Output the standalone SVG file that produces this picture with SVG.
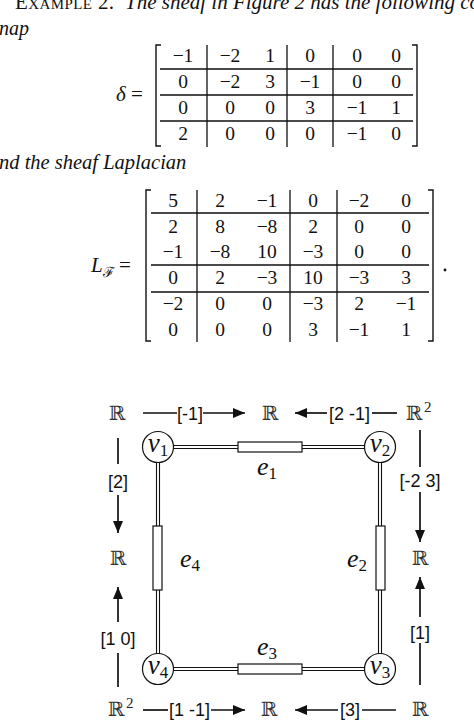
<svg xmlns="http://www.w3.org/2000/svg" width="474" height="721" viewBox="0 0 474 721">
<style>
.t{font-family:"Liberation Serif","DejaVu Serif",serif;fill:#111}
.it{font-style:italic}
.m{font-family:"Liberation Serif","DejaVu Serif",serif;font-size:19.5px;text-anchor:middle;fill:#111}
.ln{stroke:#111;stroke-width:1.3;fill:none}
.br{stroke:#111;stroke-width:1.4;fill:none}
.R{font-family:"DejaVu Serif",serif;font-size:20px;text-anchor:middle;fill:#333}
.sup{font-family:"Liberation Serif",serif;font-size:15px;fill:#222}
.lab{font-family:"Liberation Sans",Arial,sans-serif;font-size:18px;text-anchor:middle;fill:#111}
.ar{stroke:#111;stroke-width:1.7;fill:none}
.dl{stroke:#111;stroke-width:1.1;fill:none}
.box{stroke:#111;stroke-width:1.2;fill:#fff}
.node{stroke:#111;stroke-width:1.2;fill:#fff}
.math{font-family:"Liberation Serif","DejaVu Serif",serif;font-style:italic;font-size:26px;text-anchor:middle;fill:#111}
.vv{font-size:27px}
.sub{font-style:normal;font-size:17px}
</style>
<defs>
<marker id="ah" viewBox="0 0 12 10" refX="12" refY="5" markerWidth="12" markerHeight="10" markerUnits="userSpaceOnUse" orient="auto">
<path d="M0,0 L12,5 L0,10 Z" fill="#111"/>
</marker>
</defs>

<!-- paragraph text -->
<text class="t" x="15" y="9" font-size="21" font-variant="small-caps" letter-spacing="0.4">Example 2.</text>
<text class="t it" x="125" y="9" font-size="21">The sheaf in Figure 2 has the following co</text>
<text class="t it" x="-1" y="35" font-size="20">nap</text>
<text class="t it" x="-1" y="169" font-size="20.5">nd the sheaf Laplacian</text>

<!-- delta matrix -->
<g id="delta">
<text class="t it" x="116" y="101" font-size="21">δ</text>
<text class="t" x="131" y="101" font-size="21">=</text>
<path class="br" d="M161,45 H156 V146 H161 M412,45 H417 V146 H412"/>
<path class="ln" d="M207,45 V147 M287,45 V147 M333,45 V147 M160,69 H413 M160,95 H413 M160,121 H413"/>
<g class="m">
<text x="183" y="62">−1</text><text x="230" y="62">−2</text><text x="270" y="62">1</text><text x="310" y="62">0</text><text x="357" y="62">0</text><text x="396" y="62">0</text>
<text x="183" y="88">0</text><text x="230" y="88">−2</text><text x="270" y="88">3</text><text x="310" y="88">−1</text><text x="357" y="88">0</text><text x="396" y="88">0</text>
<text x="183" y="114">0</text><text x="230" y="114">0</text><text x="270" y="114">0</text><text x="310" y="114">3</text><text x="357" y="114">−1</text><text x="396" y="114">1</text>
<text x="183" y="140">2</text><text x="230" y="140">0</text><text x="270" y="140">0</text><text x="310" y="140">0</text><text x="357" y="140">−1</text><text x="396" y="140">0</text>
</g>
</g>

<!-- Laplacian -->
<g id="laplacian">
<text class="t it" x="91" y="272" font-size="21">L</text>
<text x="103" y="277" font-family="DejaVu Serif,serif" font-size="14" fill="#111">ℱ</text>
<text class="t" x="119" y="272" font-size="21">=</text>
<path class="br" d="M151,190 H146 V341 H151 M428,190 H433 V341 H428"/>
<path class="ln" d="M197,190 V342 M290,190 V342 M337,190 V342 M151,213 H429 M151,265 H429 M151,292 H429"/>
<circle cx="445" cy="270" r="1.4" fill="#111"/>
<g class="m">
<text x="173" y="207">5</text><text x="220" y="207">2</text><text x="267" y="207">−1</text><text x="313" y="207">0</text><text x="359" y="207">−2</text><text x="406" y="207">0</text>
<text x="173" y="233">2</text><text x="220" y="233">8</text><text x="267" y="233">−8</text><text x="313" y="233">2</text><text x="359" y="233">0</text><text x="406" y="233">0</text>
<text x="173" y="258">−1</text><text x="220" y="258">−8</text><text x="267" y="258">10</text><text x="313" y="258">−3</text><text x="359" y="258">0</text><text x="406" y="258">0</text>
<text x="173" y="284">0</text><text x="220" y="284">2</text><text x="267" y="284">−3</text><text x="313" y="284">10</text><text x="359" y="284">−3</text><text x="406" y="284">3</text>
<text x="173" y="310">−2</text><text x="220" y="310">0</text><text x="267" y="310">0</text><text x="313" y="310">−3</text><text x="359" y="310">2</text><text x="406" y="310">−1</text>
<text x="173" y="336">0</text><text x="220" y="336">0</text><text x="267" y="336">0</text><text x="313" y="336">3</text><text x="359" y="336">−1</text><text x="406" y="336">1</text>
</g>
</g>

<!-- graph edges -->
<g id="edges">
<path class="dl" d="M173,445.5 H365 M173,448.5 H365"/>
<path class="dl" d="M173,667.5 H365 M173,670.5 H365"/>
<path class="dl" d="M156.5,462 V654 M159.5,462 V654"/>
<path class="dl" d="M378.5,462 V654 M381.5,462 V654"/>
</g>
<g id="e1"><rect class="box" x="238" y="442" width="64" height="10"/><text class="math" x="267" y="475">e<tspan class="sub" dy="4">1</tspan></text></g>
<g id="e3"><rect class="box" x="238" y="664" width="64" height="10"/><text class="math" x="267" y="655">e<tspan class="sub" dy="4">3</tspan></text></g>
<g id="e4"><rect class="box" x="153" y="526" width="9" height="64"/><text class="math" x="190" y="567">e<tspan class="sub" dy="4">4</tspan></text></g>
<g id="e2"><rect class="box" x="376" y="526" width="9" height="64"/><text class="math" x="357" y="567">e<tspan class="sub" dy="4">2</tspan></text></g>

<g id="v1"><circle class="node" cx="158" cy="447" r="15.5"/><text class="math vv" x="158" y="452">v<tspan class="sub" dy="4">1</tspan></text></g>
<g id="v2"><circle class="node" cx="380" cy="447" r="15.5"/><text class="math vv" x="380" y="452">v<tspan class="sub" dy="4">2</tspan></text></g>
<g id="v3"><circle class="node" cx="380" cy="669" r="15.5"/><text class="math vv" x="380" y="674">v<tspan class="sub" dy="4">3</tspan></text></g>
<g id="v4"><circle class="node" cx="158" cy="669" r="15.5"/><text class="math vv" x="158" y="674">v<tspan class="sub" dy="4">4</tspan></text></g>

<!-- vector spaces -->
<g id="R-v1"><text class="R" x="117" y="420">ℝ</text></g>
<g id="R-e1"><text class="R" x="270" y="420">ℝ</text></g>
<g id="R-v2"><text class="R" x="414" y="420">ℝ</text><text class="sup" x="424" y="412">2</text></g>
<g id="R-e4"><text class="R" x="118" y="565">ℝ</text></g>
<g id="R-e2"><text class="R" x="420" y="565">ℝ</text></g>
<g id="R-v4"><text class="R" x="116" y="716">ℝ</text><text class="sup" x="126" y="708">2</text></g>
<g id="R-e3"><text class="R" x="269" y="716">ℝ</text></g>
<g id="R-v3"><text class="R" x="420" y="716">ℝ</text></g>

<!-- restriction maps -->
<g id="maps">
<path class="ar" d="M143,413 H177"/><path class="ar" d="M203,413 H245" marker-end="url(#ah)"/>
<text class="lab" x="190" y="419.5">[-1]</text>
<path class="ar" d="M397,413 H372"/><path class="ar" d="M327,413 H295" marker-end="url(#ah)"/>
<text class="lab" x="349.5" y="419.5">[2 -1]</text>
<path class="ar" d="M143,710 H168"/><path class="ar" d="M211,710 H245" marker-end="url(#ah)"/>
<text class="lab" x="189.5" y="716">[1 -1]</text>
<path class="ar" d="M396,710 H362"/><path class="ar" d="M338,710 H295" marker-end="url(#ah)"/>
<text class="lab" x="350" y="716">[3]</text>
<path class="ar" d="M118,438 V464"/><path class="ar" d="M118,495 V533" marker-end="url(#ah)"/>
<text class="lab" x="118" y="487.5">[2]</text>
<path class="ar" d="M118,687 V653"/><path class="ar" d="M118,622 V587" marker-end="url(#ah)"/>
<text class="lab" x="118" y="644.5">[1 0]</text>
<path class="ar" d="M420,430 V467"/><path class="ar" d="M420,492 V542" marker-end="url(#ah)"/>
<text class="lab" x="420" y="486.5">[-2 3]</text>
<path class="ar" d="M420,685 V643"/><path class="ar" d="M420,617 V577" marker-end="url(#ah)"/>
<text class="lab" x="420" y="638.5">[1]</text>
</g>
</svg>
